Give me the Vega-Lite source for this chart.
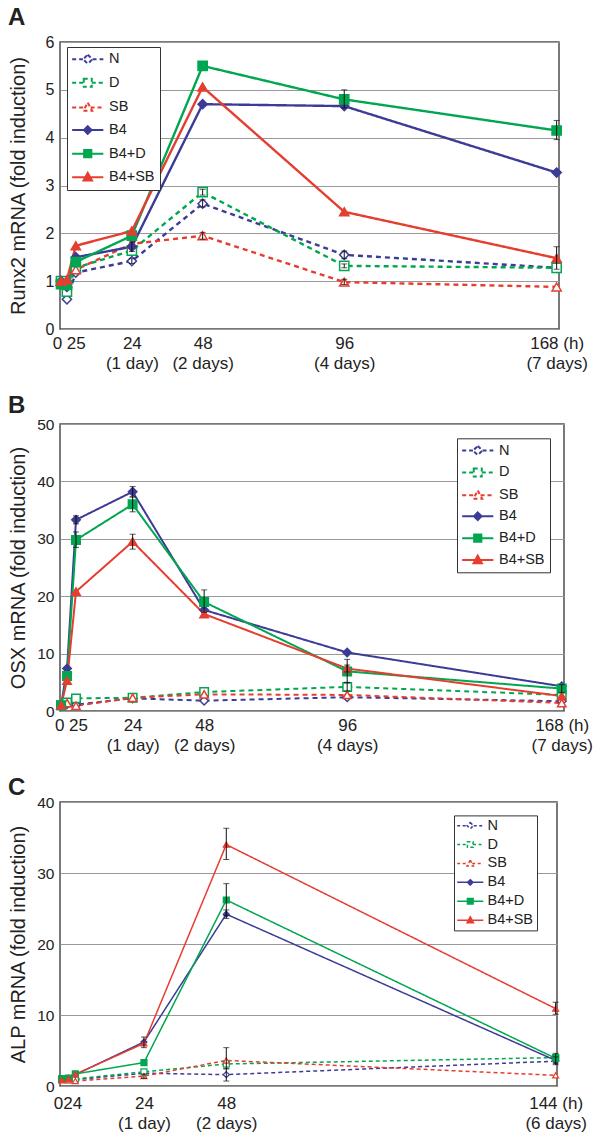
{
  "$schema": "https://vega.github.io/schema/vega-lite/v6.json",
  "padding": {"left": 7, "top": 5, "right": 0, "bottom": 0},
  "spacing": 21,
  "resolve": {"scale": {"stroke": "independent", "fill": "independent", "shape": "independent", "strokeDash": "independent"}, "legend": {"stroke": "independent", "fill": "independent", "shape": "independent", "strokeDash": "independent"}},
  "config": {
    "font": "Liberation Sans",
    "view": {"stroke": "#4d4d4d", "strokeWidth": 1.5},
    "axis": {"labelFont": "Liberation Sans", "titleFont": "Liberation Sans", "labelColor": "#222", "titleColor": "#222", "domain": false, "ticks": false, "titleFontWeight": "normal"},
    "axisY": {"gridColor": "#999999", "gridWidth": 1, "gridOpacity": 1, "labelFontSize": 16, "labelPadding": 6, "titleFontSize": 20, "titleX": -32},
    "axisX": {"grid": false, "labelFontSize": 17, "labelPadding": 6, "labelLineHeight": 20, "labelBaseline": "top", "labelFlush": false, "labelOverlap": false, "labelBound": false},
    "title": {"anchor": "start", "frame": "bounds", "fontSize": 24, "fontWeight": "bold", "color": "#222", "font": "Liberation Sans", "baseline": "alphabetic"},
    "legend": {"orient": "none", "fillColor": "white", "strokeColor": "#333333", "labelFontSize": 14.5, "labelFont": "Liberation Sans", "labelColor": "#222", "labelLimit": 200}
  },
  "datasets": {
    "a": [
      {"s":"N","t":0,"v":1.0},{"s":"N","t":2,"v":0.62},{"s":"N","t":5,"v":1.18},{"s":"N","t":24,"v":1.42},{"s":"N","t":48,"v":2.62},{"s":"N","t":96,"v":1.55},{"s":"N","t":168,"v":1.28},
      {"s":"D","t":0,"v":1.0},{"s":"D","t":2,"v":0.78},{"s":"D","t":5,"v":1.28},{"s":"D","t":24,"v":1.64},{"s":"D","t":48,"v":2.86},{"s":"D","t":96,"v":1.32},{"s":"D","t":168,"v":1.28},
      {"s":"SB","t":0,"v":1.0},{"s":"SB","t":2,"v":0.95},{"s":"SB","t":5,"v":1.24},{"s":"SB","t":24,"v":1.78},{"s":"SB","t":48,"v":1.95},{"s":"SB","t":96,"v":0.98},{"s":"SB","t":168,"v":0.88},
      {"s":"B4","t":0,"v":1.0},{"s":"B4","t":2,"v":0.88},{"s":"B4","t":5,"v":1.5},{"s":"B4","t":24,"v":1.72},{"s":"B4","t":48,"v":4.7},{"s":"B4","t":96,"v":4.66},{"s":"B4","t":168,"v":3.27},
      {"s":"B4+D","t":0,"v":0.94},{"s":"B4+D","t":2,"v":0.92},{"s":"B4+D","t":5,"v":1.4},{"s":"B4+D","t":24,"v":1.95},{"s":"B4+D","t":48,"v":5.5},{"s":"B4+D","t":96,"v":4.8},{"s":"B4+D","t":168,"v":4.15},
      {"s":"B4+SB","t":0,"v":1.0},{"s":"B4+SB","t":2,"v":1.03},{"s":"B4+SB","t":5,"v":1.74},{"s":"B4+SB","t":24,"v":2.05},{"s":"B4+SB","t":48,"v":5.06},{"s":"B4+SB","t":96,"v":2.45},{"s":"B4+SB","t":168,"v":1.48}
    ],
    "aErr": [
      {"s":"B4+D","t":96,"lo":4.62,"hi":5.0},{"s":"B4+D","t":168,"lo":3.96,"hi":4.36},{"s":"B4+SB","t":168,"lo":1.25,"hi":1.72},
      {"s":"D","t":48,"lo":2.8,"hi":2.92},{"s":"N","t":48,"lo":2.55,"hi":2.7},{"s":"N","t":96,"lo":1.47,"hi":1.63},
      {"s":"D","t":96,"lo":1.28,"hi":1.36},{"s":"SB","t":48,"lo":1.88,"hi":2.02},{"s":"B4","t":24,"lo":1.62,"hi":1.82},
      {"s":"N","t":24,"lo":1.37,"hi":1.47},{"s":"SB","t":96,"lo":0.93,"hi":1.04}
    ],
    "b": [
      {"s":"N","t":0,"v":1.0},{"s":"N","t":2,"v":1.2},{"s":"N","t":5,"v":1.1},{"s":"N","t":24,"v":2.2},{"s":"N","t":48,"v":1.8},{"s":"N","t":96,"v":2.4},{"s":"N","t":168,"v":1.7},
      {"s":"D","t":0,"v":1.0},{"s":"D","t":2,"v":1.5},{"s":"D","t":5,"v":2.2},{"s":"D","t":24,"v":2.3},{"s":"D","t":48,"v":3.3},{"s":"D","t":96,"v":4.2},{"s":"D","t":168,"v":2.8},
      {"s":"SB","t":0,"v":1.0},{"s":"SB","t":2,"v":1.4},{"s":"SB","t":5,"v":0.9},{"s":"SB","t":24,"v":2.3},{"s":"SB","t":48,"v":2.9},{"s":"SB","t":96,"v":2.8},{"s":"SB","t":168,"v":1.4},
      {"s":"B4","t":0,"v":1.0},{"s":"B4","t":2,"v":7.4},{"s":"B4","t":5,"v":33.3},{"s":"B4","t":24,"v":38.2},{"s":"B4","t":48,"v":17.6},{"s":"B4","t":96,"v":10.2},{"s":"B4","t":168,"v":4.3},
      {"s":"B4+D","t":0,"v":1.0},{"s":"B4+D","t":2,"v":6.1},{"s":"B4+D","t":5,"v":29.8},{"s":"B4+D","t":24,"v":36.0},{"s":"B4+D","t":48,"v":19.0},{"s":"B4+D","t":96,"v":6.9},{"s":"B4+D","t":168,"v":3.9},
      {"s":"B4+SB","t":0,"v":1.0},{"s":"B4+SB","t":2,"v":5.3},{"s":"B4+SB","t":5,"v":20.8},{"s":"B4+SB","t":24,"v":29.5},{"s":"B4+SB","t":48,"v":16.9},{"s":"B4+SB","t":96,"v":7.4},{"s":"B4+SB","t":168,"v":2.6}
    ],
    "bErr": [
      {"s":"B4","t":5,"lo":32.6,"hi":34.0},{"s":"B4+D","t":5,"lo":28.5,"hi":31.2},{"s":"B4","t":24,"lo":37.3,"hi":39.1},
      {"s":"B4+D","t":24,"lo":34.7,"hi":37.3},{"s":"B4+SB","t":24,"lo":28.2,"hi":30.8},{"s":"B4+D","t":48,"lo":17.2,"hi":21.1},
      {"s":"B4+D","t":96,"lo":5.0,"hi":9.0},{"s":"D","t":96,"lo":3.5,"hi":4.9},{"s":"B4+SB","t":96,"lo":6.8,"hi":8.0},
      {"s":"B4+D","t":168,"lo":3.2,"hi":4.6}
    ],
    "c": [
      {"s":"N","t":0,"v":1.0},{"s":"N","t":2,"v":0.9},{"s":"N","t":4,"v":0.9},{"s":"N","t":24,"v":1.8},{"s":"N","t":48,"v":1.6},{"s":"N","t":144,"v":3.5},
      {"s":"D","t":0,"v":1.0},{"s":"D","t":2,"v":0.9},{"s":"D","t":4,"v":1.0},{"s":"D","t":24,"v":2.0},{"s":"D","t":48,"v":3.1},{"s":"D","t":144,"v":4.0},
      {"s":"SB","t":0,"v":1.0},{"s":"SB","t":2,"v":0.8},{"s":"SB","t":4,"v":0.7},{"s":"SB","t":24,"v":1.4},{"s":"SB","t":48,"v":3.6},{"s":"SB","t":144,"v":1.5},
      {"s":"B4","t":0,"v":1.0},{"s":"B4","t":2,"v":1.1},{"s":"B4","t":4,"v":1.6},{"s":"B4","t":24,"v":6.2},{"s":"B4","t":48,"v":24.2},{"s":"B4","t":144,"v":3.6},
      {"s":"B4+D","t":0,"v":1.0},{"s":"B4+D","t":2,"v":1.1},{"s":"B4+D","t":4,"v":1.7},{"s":"B4+D","t":24,"v":3.3},{"s":"B4+D","t":48,"v":26.2},{"s":"B4+D","t":144,"v":3.9},
      {"s":"B4+SB","t":0,"v":0.8},{"s":"B4+SB","t":2,"v":1.0},{"s":"B4+SB","t":4,"v":1.65},{"s":"B4+SB","t":24,"v":6.0},{"s":"B4+SB","t":48,"v":34.0},{"s":"B4+SB","t":144,"v":10.9}
    ],
    "cErr": [
      {"s":"B4+SB","t":48,"lo":31.9,"hi":36.3},{"s":"B4+D","t":48,"lo":24.0,"hi":28.5},{"s":"B4","t":48,"lo":23.6,"hi":24.8},
      {"s":"B4+SB","t":24,"lo":5.4,"hi":6.9},{"s":"N","t":48,"lo":0.7,"hi":2.5},{"s":"SB","t":48,"lo":2.4,"hi":5.4},
      {"s":"B4+SB","t":144,"lo":10.1,"hi":11.8},{"s":"B4+D","t":144,"lo":3.2,"hi":4.6},{"s":"N","t":144,"lo":3.0,"hi":4.1},
      {"s":"SB","t":24,"lo":1.1,"hi":1.7}
    ]
  },
  "vconcat": [
    {
      "width": 499, "height": 287,
      "title": {"text": "A", "offset": 4},
      "data": {"name": "a"},
      "layer": [
        {
          "mark": {"type": "line", "strokeWidth": 2.4},
          "encoding": {
            "x": {"field": "t", "type": "quantitative", "scale": {"domain": [-0.35, 168.8], "nice": false, "zero": false},
                  "axis": {"title": null, "values": [2.6, 24, 48, 96, 168],
                           "labelExpr": "datum.value < 10 ? '0 25' : datum.value == 24 ? ['24', '(1 day)'] : datum.value == 48 ? ['48', '(2 days)'] : datum.value == 96 ? ['96', '(4 days)'] : ['168 (h)', '(7 days)']",
                           "encode": {"labels": {"update": {"dx": {"signal": "datum.value > 150 ? 12 : 0"}}}}}},
            "y": {"field": "v", "type": "quantitative", "scale": {"domain": [0, 6], "nice": false},
                  "axis": {"title": "Runx2 mRNA (fold induction)", "values": [0, 1, 2, 3, 4, 5, 6]}},
            "stroke": {"field": "s", "type": "nominal",
                       "scale": {"domain": ["N", "D", "SB", "B4", "B4+D", "B4+SB"], "range": ["#3c3c96", "#00a650", "#e53e30", "#3c3c96", "#00a650", "#e53e30"]},
                       "legend": {"title": null, "legendX": 7, "legendY": 5, "padding": 5, "rowPadding": 6.6, "symbolSize": 64, "symbolStrokeWidth": 2, "symbolOffset": 8.5, "labelOffset": 14,
                                  "encode": {"symbols": {"update": {
                                    "shape": {"signal": "datum.value === 'N' ? 'M-3.9,0H-1.2M1.2,0H3.9M0,-1.15L1.15,0L0,1.15L-1.15,0Z' : datum.value === 'D' ? 'M-3.9,0H-1M1,0H3.9M-1,-1H1V1H-1Z' : datum.value === 'SB' ? 'M-3.9,0H-0.7M0.7,0H3.9M0,-1.2L1.1,0.85H-1.1Z' : datum.value === 'B4' ? 'M-3.9,0H3.9M0,-0.95L0.95,0L0,0.95L-0.95,0Z' : datum.value === 'B4+D' ? 'M-3.9,0H3.9M-0.9,-0.9H0.9V0.9H-0.9Z' : 'M-3.9,0H3.9M0,-1.1L1.05,0.8H-1.05Z'"},
                                    "fill": {"signal": "indexof(['N','D','SB'], datum.value) >= 0 ? 'white' : (datum.value === 'B4' ? '#3c3c96' : datum.value === 'B4+D' ? '#00a650' : '#e53e30')"},
                                    "strokeDash": {"signal": "indexof(['N','D','SB'], datum.value) >= 0 ? [4,3] : [1,0]"},
                                    "size": {"value": 64},
                                    "strokeWidth": {"value": 2}
                                  }}}}},
            "strokeDash": {"field": "s", "type": "nominal",
                           "scale": {"domain": ["B4", "B4+D", "B4+SB", "N", "D", "SB"], "range": [[1, 0], [1, 0], [1, 0], [5, 4], [5, 4], [5, 4]]},
                           "legend": null}
          }
        },
        {
          "mark": {"type": "point", "filled": true, "opacity": 1, "strokeWidth": 1.5, "size": 85},
          "encoding": {
            "x": {"field": "t", "type": "quantitative"},
            "y": {"field": "v", "type": "quantitative", "title": "Runx2 mRNA (fold induction)"},
            "stroke": {"field": "s", "type": "nominal"},
            "fill": {"field": "s", "type": "nominal",
                     "scale": {"domain": ["B4", "B4+D", "B4+SB", "N", "D", "SB"], "range": ["#3c3c96", "#00a650", "#e53e30", "white", "white", "white"]},
                     "legend": null},
            "shape": {"field": "s", "type": "nominal",
                      "scale": {"domain": ["B4+SB", "B4+D", "B4", "SB", "D", "N"], "range": ["triangle-up", "square", "diamond", "triangle-up", "square", "diamond"]},
                      "legend": null}
          }
        },
        {
          "data": {"name": "aErr"},
          "mark": {"type": "rule", "color": "#111", "strokeWidth": 1},
          "encoding": {
            "x": {"field": "t", "type": "quantitative"},
            "y": {"field": "lo", "type": "quantitative", "title": "Runx2 mRNA (fold induction)"},
            "y2": {"field": "hi"}
          }
        },
        {
          "data": {"name": "aErr"},
          "mark": {"type": "tick", "orient": "horizontal", "color": "#111", "size": 6, "thickness": 1},
          "encoding": {
            "x": {"field": "t", "type": "quantitative"},
            "y": {"field": "lo", "type": "quantitative", "title": "Runx2 mRNA (fold induction)"}
          }
        },
        {
          "data": {"name": "aErr"},
          "mark": {"type": "tick", "orient": "horizontal", "color": "#111", "size": 6, "thickness": 1},
          "encoding": {
            "x": {"field": "t", "type": "quantitative"},
            "y": {"field": "hi", "type": "quantitative", "title": "Runx2 mRNA (fold induction)"}
          }
        }
      ]
    },
    {
      "width": 504, "height": 287,
      "title": {"text": "B", "offset": -1},
      "data": {"name": "b"},
      "layer": [
        {
          "mark": {"type": "line", "strokeWidth": 2},
          "encoding": {
            "x": {"field": "t", "type": "quantitative", "scale": {"domain": [-0.37, 168.76], "nice": false, "zero": false},
                  "axis": {"title": null, "values": [3.3, 24, 48, 96, 168],
                           "labelExpr": "datum.value < 10 ? '0 25' : datum.value == 24 ? ['24', '(1 day)'] : datum.value == 48 ? ['48', '(2 days)'] : datum.value == 96 ? ['96', '(4 days)'] : ['168 (h)', '(7 days)']",
                           "encode": {"labels": {"update": {"dx": {"signal": "datum.value > 150 ? 9 : 0"}}}}}},
            "y": {"field": "v", "type": "quantitative", "scale": {"domain": [0, 50], "nice": false},
                  "axis": {"title": "OSX mRNA (fold induction)", "values": [0, 10, 20, 30, 40, 50], "labelFontSize": 15.5}},
            "stroke": {"field": "s", "type": "nominal",
                       "scale": {"domain": ["N", "D", "SB", "B4", "B4+D", "B4+SB"], "range": ["#3c3c96", "#00a650", "#e53e30", "#3c3c96", "#00a650", "#e53e30"]},
                       "legend": {"title": null, "legendX": 397, "legendY": 14.3, "padding": 5, "rowPadding": 4.9, "symbolSize": 64, "symbolStrokeWidth": 2, "symbolOffset": 8.5, "labelOffset": 14,
                                  "encode": {"symbols": {"update": {
                                    "shape": {"signal": "datum.value === 'N' ? 'M-3.9,0H-1.2M1.2,0H3.9M0,-1.15L1.15,0L0,1.15L-1.15,0Z' : datum.value === 'D' ? 'M-3.9,0H-1M1,0H3.9M-1,-1H1V1H-1Z' : datum.value === 'SB' ? 'M-3.9,0H-0.7M0.7,0H3.9M0,-1.2L1.1,0.85H-1.1Z' : datum.value === 'B4' ? 'M-3.9,0H3.9M0,-0.95L0.95,0L0,0.95L-0.95,0Z' : datum.value === 'B4+D' ? 'M-3.9,0H3.9M-0.9,-0.9H0.9V0.9H-0.9Z' : 'M-3.9,0H3.9M0,-1.1L1.05,0.8H-1.05Z'"},
                                    "fill": {"signal": "indexof(['N','D','SB'], datum.value) >= 0 ? 'white' : (datum.value === 'B4' ? '#3c3c96' : datum.value === 'B4+D' ? '#00a650' : '#e53e30')"},
                                    "strokeDash": {"signal": "indexof(['N','D','SB'], datum.value) >= 0 ? [4,3] : [1,0]"},
                                    "size": {"value": 64},
                                    "strokeWidth": {"value": 2}
                                  }}}}},
            "strokeDash": {"field": "s", "type": "nominal",
                           "scale": {"domain": ["B4", "B4+D", "B4+SB", "N", "D", "SB"], "range": [[1, 0], [1, 0], [1, 0], [5, 4], [5, 4], [5, 4]]},
                           "legend": null}
          }
        },
        {
          "mark": {"type": "point", "filled": true, "opacity": 1, "strokeWidth": 1.5, "size": 72},
          "encoding": {
            "x": {"field": "t", "type": "quantitative"},
            "y": {"field": "v", "type": "quantitative", "title": "OSX mRNA (fold induction)"},
            "stroke": {"field": "s", "type": "nominal"},
            "fill": {"field": "s", "type": "nominal",
                     "scale": {"domain": ["B4", "B4+D", "B4+SB", "N", "D", "SB"], "range": ["#3c3c96", "#00a650", "#e53e30", "white", "white", "white"]},
                     "legend": null},
            "shape": {"field": "s", "type": "nominal",
                      "scale": {"domain": ["B4+SB", "B4+D", "B4", "SB", "D", "N"], "range": ["triangle-up", "square", "diamond", "triangle-up", "square", "diamond"]},
                      "legend": null}
          }
        },
        {
          "data": {"name": "bErr"},
          "mark": {"type": "rule", "color": "#111", "strokeWidth": 1},
          "encoding": {
            "x": {"field": "t", "type": "quantitative"},
            "y": {"field": "lo", "type": "quantitative", "title": "OSX mRNA (fold induction)"},
            "y2": {"field": "hi"}
          }
        },
        {
          "data": {"name": "bErr"},
          "mark": {"type": "tick", "orient": "horizontal", "color": "#111", "size": 6, "thickness": 1},
          "encoding": {
            "x": {"field": "t", "type": "quantitative"},
            "y": {"field": "lo", "type": "quantitative", "title": "OSX mRNA (fold induction)"}
          }
        },
        {
          "data": {"name": "bErr"},
          "mark": {"type": "tick", "orient": "horizontal", "color": "#111", "size": 6, "thickness": 1},
          "encoding": {
            "x": {"field": "t", "type": "quantitative"},
            "y": {"field": "hi", "type": "quantitative", "title": "OSX mRNA (fold induction)"}
          }
        }
      ]
    },
    {
      "width": 497, "height": 284,
      "title": {"text": "C", "offset": -5},
      "data": {"name": "c"},
      "layer": [
        {
          "mark": {"type": "line", "strokeWidth": 1.5},
          "encoding": {
            "x": {"field": "t", "type": "quantitative", "scale": {"domain": [-0.47, 144.4], "nice": false, "zero": false},
                  "axis": {"title": null, "values": [1.7, 24, 48, 144], "labelPadding": 9, "labelLineHeight": 20.5,
                           "labelExpr": "datum.value < 10 ? '024' : datum.value == 24 ? ['24', '(1 day)'] : datum.value == 48 ? ['48', '(2 days)'] : ['144 (h)', '(6 days)']"}},
            "y": {"field": "v", "type": "quantitative", "scale": {"domain": [0, 40], "nice": false},
                  "axis": {"title": "ALP mRNA (fold induction)", "values": [0, 5, 10, 15, 20, 25, 30, 35, 40], "labelFontSize": 15.5}},
            "stroke": {"field": "s", "type": "nominal",
                       "scale": {"domain": ["N", "D", "SB", "B4", "B4+D", "B4+SB"], "range": ["#3c3c96", "#00a650", "#e53e30", "#3c3c96", "#00a650", "#e53e30"]},
                       "legend": {"title": null, "legendX": 394, "legendY": 13.4, "padding": 3, "rowPadding": 3.9, "symbolSize": 44, "symbolStrokeWidth": 1.5, "symbolOffset": 6, "labelOffset": 10,
                                  "encode": {"symbols": {"update": {
                                    "shape": {"signal": "datum.value === 'N' ? 'M-3.94,0H-1.05M1.05,0H3.94M0,-0.95L0.95,0L0,0.95L-0.95,0Z' : datum.value === 'D' ? 'M-3.94,0H-0.85M0.85,0H3.94M-0.85,-0.85H0.85V0.85H-0.85Z' : datum.value === 'SB' ? 'M-3.94,0H-0.6M0.6,0H3.94M0,-1L0.95,0.75H-0.95Z' : datum.value === 'B4' ? 'M-3.94,0H3.94M0,-0.8L0.8,0L0,0.8L-0.8,0Z' : datum.value === 'B4+D' ? 'M-3.94,0H3.94M-0.85,-0.85H0.85V0.85H-0.85Z' : 'M-3.94,0H3.94M0,-1L0.95,0.75H-0.95Z'"},
                                    "fill": {"signal": "indexof(['N','D','SB'], datum.value) >= 0 ? 'white' : (datum.value === 'B4' ? '#3c3c96' : datum.value === 'B4+D' ? '#00a650' : '#e53e30')"},
                                    "strokeDash": {"signal": "indexof(['N','D','SB'], datum.value) >= 0 ? [3,2.5] : [1,0]"},
                                    "size": {"value": 44},
                                    "strokeWidth": {"value": 1.5}
                                  }}}}},
            "strokeDash": {"field": "s", "type": "nominal",
                           "scale": {"domain": ["B4", "B4+D", "B4+SB", "N", "D", "SB"], "range": [[1, 0], [1, 0], [1, 0], [4, 3], [4, 3], [4, 3]]},
                           "legend": null}
          }
        },
        {
          "mark": {"type": "point", "filled": true, "opacity": 1, "strokeWidth": 1.2, "size": 36},
          "encoding": {
            "x": {"field": "t", "type": "quantitative"},
            "y": {"field": "v", "type": "quantitative", "title": "ALP mRNA (fold induction)"},
            "stroke": {"field": "s", "type": "nominal"},
            "fill": {"field": "s", "type": "nominal",
                     "scale": {"domain": ["B4", "B4+D", "B4+SB", "N", "D", "SB"], "range": ["#3c3c96", "#00a650", "#e53e30", "white", "white", "white"]},
                     "legend": null},
            "shape": {"field": "s", "type": "nominal",
                      "scale": {"domain": ["B4+SB", "B4+D", "B4", "SB", "D", "N"], "range": ["triangle-up", "square", "diamond", "triangle-up", "square", "diamond"]},
                      "legend": null}
          }
        },
        {
          "data": {"name": "cErr"},
          "mark": {"type": "rule", "color": "#111", "strokeWidth": 1},
          "encoding": {
            "x": {"field": "t", "type": "quantitative"},
            "y": {"field": "lo", "type": "quantitative", "title": "ALP mRNA (fold induction)"},
            "y2": {"field": "hi"}
          }
        },
        {
          "data": {"name": "cErr"},
          "mark": {"type": "tick", "orient": "horizontal", "color": "#111", "size": 6, "thickness": 1},
          "encoding": {
            "x": {"field": "t", "type": "quantitative"},
            "y": {"field": "lo", "type": "quantitative", "title": "ALP mRNA (fold induction)"}
          }
        },
        {
          "data": {"name": "cErr"},
          "mark": {"type": "tick", "orient": "horizontal", "color": "#111", "size": 6, "thickness": 1},
          "encoding": {
            "x": {"field": "t", "type": "quantitative"},
            "y": {"field": "hi", "type": "quantitative", "title": "ALP mRNA (fold induction)"}
          }
        }
      ]
    }
  ]
}
